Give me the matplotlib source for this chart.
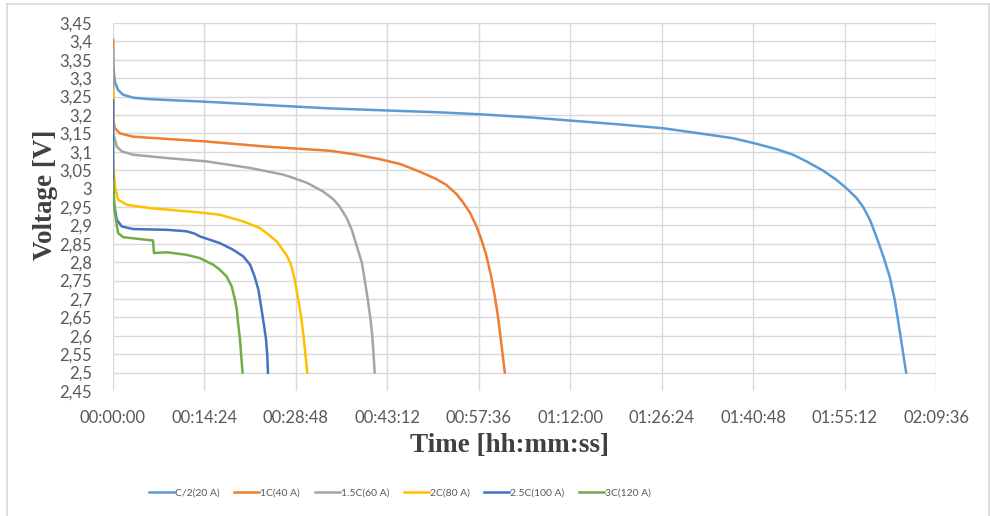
import matplotlib.pyplot as plt
from matplotlib.lines import Line2D
from matplotlib.ticker import FuncFormatter

# Discharge curves: time in minutes, voltage in V
labels = ["C/2(20 A)", "1C(40 A)", "1.5C(60 A)", "2C(80 A)", "2.5C(100 A)", "3C(120 A)"]
colors = ["#5B9BD5", "#ED7D31", "#A5A5A5", "#FFC000", "#4472C4", "#70AD47"]

t_c2 = [0, 0.05, 0.3, 0.8, 1.6, 3.2, 5.8, 14.7, 24.2, 34.1, 45.2, 50.4, 57.8, 66.1, 71.9,
        79.3, 86.6, 92.4, 97.6, 101.3, 104.5, 107.1, 109.2, 111.8, 113.9, 115.5, 117.1,
        118.1, 119.2, 120.2, 121.3, 122.3, 123.1, 123.6, 124.1, 124.5, 124.9]
v_c2 = [3.404, 3.331, 3.29, 3.268, 3.255, 3.247, 3.243, 3.236, 3.227, 3.218, 3.211, 3.208,
        3.202, 3.193, 3.185, 3.175, 3.164, 3.15, 3.137, 3.122, 3.107, 3.092, 3.074, 3.049,
        3.024, 3.001, 2.974, 2.951, 2.915, 2.87, 2.816, 2.761, 2.698, 2.644, 2.59, 2.544, 2.50]

t_1c = [0, 0.02, 0.05, 0.3, 1.1, 3.2, 8.5, 14.7, 24.2, 34.1, 38.1, 42.0, 45.2, 48.3, 50.9,
        52.5, 54.1, 55.1, 56.2, 57.2, 58.0, 58.8, 59.5, 60.1, 60.6, 61.0, 61.35, 61.7]
v_1c = [3.40, 3.24, 3.187, 3.164, 3.15, 3.141, 3.135, 3.128, 3.114, 3.103, 3.093, 3.080,
        3.067, 3.046, 3.026, 3.010, 2.985, 2.963, 2.935, 2.899, 2.862, 2.818, 2.765, 2.71,
        2.655, 2.60, 2.55, 2.50]

t_15c = [0, 0.02, 0.05, 0.6, 1.4, 3.2, 8.5, 14.7, 21.6, 26.8, 27.9, 30.5, 33.1, 34.7, 35.7,
         36.8, 37.6, 38.4, 39.2, 39.7, 40.15, 40.55, 40.85, 41.05, 41.2]
v_15c = [3.38, 3.2, 3.15, 3.114, 3.101, 3.092, 3.083, 3.074, 3.056, 3.038, 3.032, 3.016,
         2.992, 2.971, 2.951, 2.92, 2.888, 2.843, 2.798, 2.745, 2.695, 2.645, 2.595, 2.545, 2.50]

t_2c = [0, 0.02, 0.05, 0.3, 0.8, 2.2, 5.8, 13.7, 16.8, 20.5, 23.1, 24.2, 25.8, 27.3, 28.0,
        28.6, 29.1, 29.6, 30.0, 30.3, 30.6]
v_2c = [3.27, 3.10, 3.069, 3.006, 2.97, 2.956, 2.947, 2.935, 2.929, 2.911, 2.893, 2.879,
        2.856, 2.82, 2.795, 2.755, 2.705, 2.655, 2.60, 2.55, 2.50]

t_25c = [0, 0.02, 0.05, 0.6, 1.4, 3.2, 8.5, 11.6, 12.8, 13.7, 16.8, 18.9, 20.5, 21.6, 22.3,
         22.9, 23.4, 23.8, 24.1, 24.3, 24.4]
v_25c = [3.24, 3.02, 2.97, 2.915, 2.897, 2.89, 2.888, 2.884, 2.878, 2.87, 2.852, 2.834,
         2.816, 2.793, 2.761, 2.725, 2.671, 2.626, 2.59, 2.544, 2.50]

t_3c = [0, 0.05, 0.3, 0.8, 1.6, 4.2, 6.3, 6.45, 8.5, 11.6, 13.7, 15.8, 16.8, 17.9, 18.7,
        19.2, 19.5, 19.7, 20.0, 20.2, 20.4]
v_3c = [3.02, 3.005, 2.933, 2.879, 2.868, 2.863, 2.859, 2.825, 2.827, 2.82, 2.811, 2.793,
        2.78, 2.761, 2.734, 2.698, 2.671, 2.635, 2.59, 2.544, 2.50]

times = [t_c2, t_1c, t_15c, t_2c, t_25c, t_3c]
volts = [v_c2, v_1c, v_15c, v_2c, v_25c, v_3c]

x_ticks = [i * 864 for i in range(10)]          # every 00:14:24
y_ticks = [round(2.45 + 0.05 * i, 2) for i in range(21)]

fig = plt.figure(figsize=(9.9, 5.16), dpi=100)
ax = fig.add_axes([113 / 990, 1 - 391 / 516, 823 / 990, 368 / 516])

# light grid, drawn by hand so the bottom edge stays open
for y in y_ticks[1:]:
    ax.axhline(y, color="#D9D9D9", lw=1, zorder=0)
for x in x_ticks:
    ax.axvline(x, color="#D9D9D9", lw=1, zorder=0)

for t, v, c, lab in zip(times, volts, colors, labels):
    ax.plot([m * 60 for m in t], v, color=c, lw=1.8, label=lab, zorder=2,
            solid_joinstyle="round")

ax.set_xlim(0, 7776)
ax.set_ylim(2.45, 3.45)
ax.set_xticks(x_ticks)
ax.set_yticks(y_ticks)


def hms(s, pos=None):
    s = int(round(s))
    return f"{s // 3600:02d}:{s % 3600 // 60:02d}:{s % 60:02d}"


ax.xaxis.set_major_formatter(FuncFormatter(hms))
ax.yaxis.set_major_formatter(FuncFormatter(lambda v, p: f"{round(v, 2):g}".replace(".", ",")))
ax.tick_params(length=0, labelsize=12, labelcolor="#595959", labelfontfamily="Lato")
ax.tick_params(axis="y", pad=15)
ax.tick_params(axis="x", pad=14)
for s in ax.spines.values():
    s.set_visible(False)

fig.text(45 / 990, 1 - 195 / 516, "Voltage [V]", rotation=90, ha="center", va="center",
         family="Liberation Serif", weight="bold", fontsize=19.5, color="#404040")
fig.text(510 / 990, 1 - 446 / 516, "Time [hh:mm:ss]", ha="center", va="center",
         family="Liberation Serif", weight="bold", fontsize=19.5, color="#404040")

fig.legend(loc="center", bbox_to_anchor=(400 / 990, 1 - 493 / 516), ncol=6, frameon=False,
           prop={"family": "Lato", "size": 7.5}, labelcolor="#595959", handlelength=2.4,
           handletextpad=0.1, columnspacing=1.4)

# chart area frame
for xs, ys in [([7, 7], [4, 516]), ([7, 989], [4, 4]), ([989, 989], [4, 516])]:
    fig.add_artist(Line2D([x / 990 for x in xs], [1 - y / 516 for y in ys],
                          color="#D9D9D9", lw=1.2))

fig.savefig("out.png", dpi=100)
